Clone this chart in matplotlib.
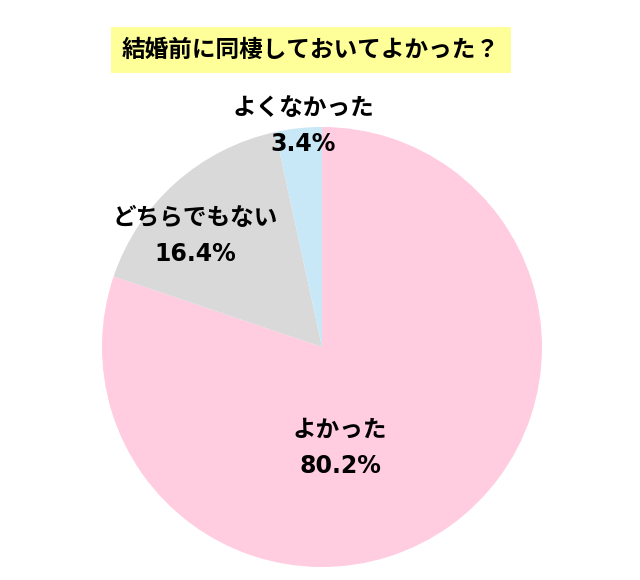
import matplotlib
matplotlib.use("Agg")
import matplotlib.pyplot as plt

labels = ["よかった", "どちらでもない", "よくなかった"]
values = [80.2, 16.4, 3.4]
colors = ["#FFCCE0", "#D9D9D9", "#C8E8F8"]
title = "結婚前に同棲しておいてよかった？"

plt.rcParams['font.family'] = ['Noto Sans CJK JP', 'DejaVu Sans']
W, H = 640, 580
fig = plt.figure(figsize=(6.4, 5.8), dpi=100)
cx, cy, r = 322, 347, 220
ax = fig.add_axes([(cx - r) / W, (H - cy - r) / H, 2 * r / W, 2 * r / H])
ax.pie(values, colors=colors, startangle=90, counterclock=False,
       wedgeprops=dict(linewidth=0))
ax.set_xlim(-1, 1)
ax.set_ylim(-1, 1)
ax.set_aspect('equal')

label_pos = [(340, 430), (195, 218), (303, 108)]
for (x, y), lab, v in zip(label_pos, labels, values):
    fig.text(x / W, 1 - y / H, lab, ha='center', va='center', fontsize=17, fontweight='bold')
    fig.text(x / W, 1 - (y + 36) / H, f"{v}%", ha='center', va='center', fontsize=17,
             fontweight='bold', family=['DejaVu Sans'])

fig.text(311 / W, 1 - 50 / H, title, ha='center', va='center', fontsize=17, fontweight='bold',
         bbox=dict(boxstyle='square,pad=0.45', fc='#FFFF99', ec='none'))
fig.savefig("out.png", dpi=100)
